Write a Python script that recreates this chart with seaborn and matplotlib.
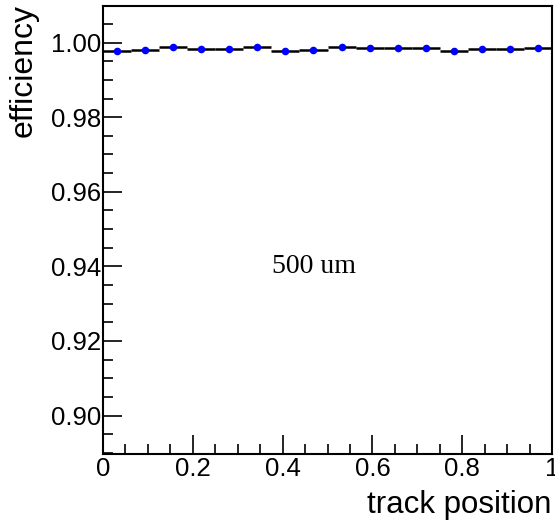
import numpy as np
import pandas as pd
import matplotlib
matplotlib.use("Agg")
import matplotlib.pyplot as plt
from matplotlib.ticker import MultipleLocator, FormatStrFormatter
import seaborn as sns

# data
bin_centers = [0.03125, 0.09375, 0.15625, 0.21875, 0.28125, 0.34375, 0.40625, 0.46875,
               0.53125, 0.59375, 0.65625, 0.71875, 0.78125, 0.84375, 0.90625, 0.96875]
efficiency = [0.99786, 0.99803, 0.99875, 0.99830, 0.99830, 0.99893, 0.99786, 0.99803,
              0.99884, 0.99857, 0.99848, 0.99848, 0.99777, 0.99830, 0.99830, 0.99848]
bin_half_width = 0.03125
x_ticks = [0, 0.2, 0.4, 0.6, 0.8, 1]
x_tick_labels = ["0", "0.2", "0.4", "0.6", "0.8", "1"]
annotation = "500 um"

sns.set_theme(style="white")
plt.rcParams['font.family'] = ['Liberation Sans', 'DejaVu Sans']
plt.rcParams['text.color'] = 'black'
plt.rcParams['xtick.color'] = 'black'
plt.rcParams['ytick.color'] = 'black'

df = pd.DataFrame({"pos": bin_centers, "eff": efficiency})

fig = plt.figure(figsize=(5.55, 5.24), dpi=100)
ax = fig.add_axes([103/555, 1 - 454.3/524, (552 - 103)/555, (454.3 - 5.7)/524])

ax.errorbar(df["pos"], df["eff"], xerr=bin_half_width, yerr=0.0001, fmt='none',
            ecolor='black', elinewidth=1.8, capsize=0, zorder=2)
sns.scatterplot(data=df, x="pos", y="eff", ax=ax, color='#0000ff', s=30,
                edgecolor='#0000ff', linewidth=0, zorder=3, legend=False)

ax.set_xlim(0, 1)
ax.set_ylim(0.8896, 1.0099)
ax.set_xticks(x_ticks)
ax.set_xticklabels(x_tick_labels)
ax.xaxis.set_minor_locator(MultipleLocator(0.05))
ax.yaxis.set_major_locator(MultipleLocator(0.02))
ax.yaxis.set_minor_locator(MultipleLocator(0.005))
ax.yaxis.set_major_formatter(FormatStrFormatter('%.2f'))

ax.tick_params(axis='both', which='both', direction='in', top=False, right=False,
               left=True, bottom=True, colors='black', labelcolor='black', labelsize=18.5)
ax.tick_params(axis='both', which='major', length=14, width=1.2)
ax.tick_params(axis='both', which='minor', length=7, width=1.2)
ax.tick_params(axis='x', which='major', pad=2)
ax.tick_params(axis='y', which='major', pad=1)

for sp in ax.spines.values():
    sp.set_color('black')
    sp.set_linewidth(1.5)

ax.set_xlabel("")
ax.set_ylabel("")

fig.text(551/555, 1 - 513/524, "track position", ha='right', va='baseline',
         fontsize=22.5, color='black')
fig.text(31.5/555, 1 - 4/524, "efficiency", ha='right', va='baseline', rotation=90,
         rotation_mode='anchor', fontsize=23, color='black')

ax.text(0.376, 0.94, annotation, ha='left', va='center', fontsize=20, color='black',
        family=['Liberation Serif', 'DejaVu Serif'])

fig.savefig("out.png", dpi=100)
